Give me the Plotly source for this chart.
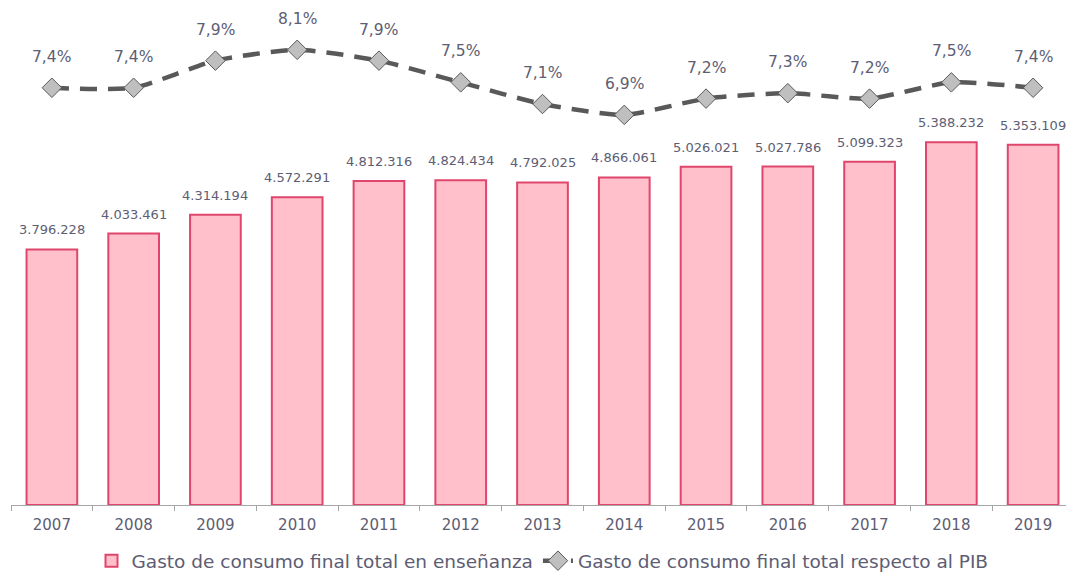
import plotly.graph_objects as go

years = ["2007", "2008", "2009", "2010", "2011", "2012", "2013",
         "2014", "2015", "2016", "2017", "2018", "2019"]
gasto = [3796228, 4033461, 4314194, 4572291, 4812316, 4824434, 4792025,
         4866061, 5026021, 5027786, 5099323, 5388232, 5353109]
pib_pct = [7.4, 7.4, 7.9, 8.1, 7.9, 7.5, 7.1, 6.9, 7.2, 7.3, 7.2, 7.5, 7.4]

FONT = "DejaVu Sans"
TXT = "#5d5d73"

fig = go.Figure()
fig.add_trace(go.Bar(
    x=years, y=gasto, name="Gasto de consumo final total en enseñanza",
    marker=dict(color="#ffc0cb", line=dict(color="#e0466c", width=2)),
    width=0.62, yaxis="y",
))
fig.add_trace(go.Scatter(
    x=years, y=pib_pct, name="Gasto de consumo final total respecto al PIB",
    mode="lines+markers", yaxis="y2",
    line=dict(color="#595959", width=4.5, dash="17px,11px", shape="spline", smoothing=0.6),
    marker=dict(symbol="diamond", size=15, color="#bfbfbf",
                line=dict(color="#595959", width=1)),
))

ann = []
for i, v in enumerate(gasto):
    ann.append(dict(x=i, y=v, xref="x", yref="y", text=f"{v:,}".replace(",", "."),
                    showarrow=False, yanchor="bottom", yshift=10,
                    font=dict(family=FONT, size=13, color=TXT)))
for i, v in enumerate(pib_pct):
    ann.append(dict(x=i, y=v, xref="x", yref="y2", text=f"{v:.1f}%".replace(".", ","),
                    showarrow=False, yanchor="bottom", yshift=20,
                    font=dict(family=FONT, size=15.5, color=TXT)))

fig.update_layout(
    width=1066, height=573,
    margin=dict(l=3, r=0, t=12, b=76),
    paper_bgcolor="white", plot_bgcolor="white",
    separators=",.",
    font=dict(family=FONT, size=15, color=TXT),
    xaxis=dict(type="category", range=[-0.5, 12.5], showline=True, linecolor="#a6a6a6",
               linewidth=1, ticks="outside", tickson="boundaries", ticklen=5,
               tickcolor="#a6a6a6", showgrid=False, ticklabelstandoff=6,
               tickfont=dict(family=FONT, size=15, color=TXT)),
    yaxis=dict(range=[0, 7206000], visible=False, showgrid=False),
    yaxis2=dict(range=[-0.296, 8.65], overlaying="y", visible=False, showgrid=False),
    legend=dict(orientation="h", x=0.5, xanchor="center", y=-0.155, yanchor="bottom",
                font=dict(family=FONT, size=18.5, color=TXT)),
    annotations=ann,
    showlegend=True,
)

fig.write_html("out.html")
